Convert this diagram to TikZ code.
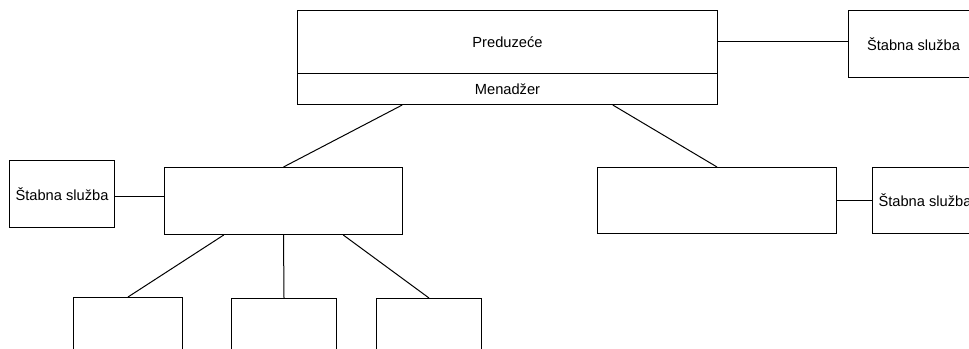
\documentclass[tikz,border=0pt]{standalone}
\usepackage{fontspec}
\setmainfont{Liberation Sans}
\usetikzlibrary{calc}
\begin{document}
\begin{tikzpicture}[x=0.75pt,y=-0.75pt,
  unit/.style={draw=black,line width=0.75pt,fill=white,inner sep=0pt,anchor=north west,font=\fontsize{11}{13}\selectfont},
  link/.style={draw=black,line width=0.75pt}]
\clip (0,0) rectangle (969,349);
\fill[white] (0,0) rectangle (969,349);
% company with its manager
\node[unit,minimum width=315pt,minimum height=47.25pt] (firm) at (297,10) {Preduzeće};
\node[unit,minimum width=315pt,minimum height=23.25pt] (mgr) at (297,73) {Menadžer};
\node[unit,minimum width=97.5pt,minimum height=50.25pt] (staffA) at (848,10) {Štabna služba};
% second level
\node[unit,minimum width=178.5pt,minimum height=50.25pt] (unitL) at (164,167) {};
\node[unit,minimum width=78.75pt,minimum height=50.25pt] (staffL) at (9,160) {Štabna služba};
\node[unit,minimum width=179.25pt,minimum height=49.5pt] (unitR) at (597,167) {};
\node[unit,minimum width=78.75pt,minimum height=49.5pt] (staffR) at (872,167) {Štabna služba};
% third level
\node[unit,minimum width=81.75pt,minimum height=60pt] (subA) at (73,297) {};
\node[unit,minimum width=78.75pt,minimum height=60pt] (subB) at (231,298) {};
\node[unit,minimum width=78.75pt,minimum height=60pt] (subC) at (376,298) {};
% connectors
\draw[link] (firm.east) -- (staffA.west |- firm.east);
\draw[link] ($(mgr.south west)!0.25!(mgr.south east)$) -- (unitL.north);
\draw[link] ($(mgr.south west)!0.75!(mgr.south east)$) -- (unitR.north);
\draw[link] (staffL.east |- 0,196) -- (unitL.west |- 0,196);
\draw[link] (unitR.east) -- (staffR.west |- unitR.east);
\draw[link] ($(unitL.south west)!0.25!(unitL.south east)$) -- (subA.north);
\draw[link] (unitL.south) -- (subB.north);
\draw[link] ($(unitL.south west)!0.75!(unitL.south east)$) -- (subC.north);
\end{tikzpicture}
\end{document}
